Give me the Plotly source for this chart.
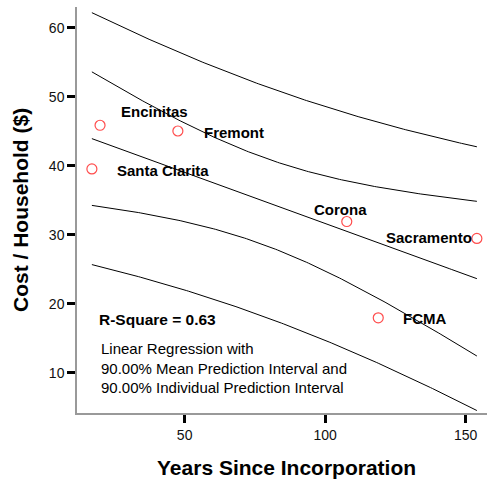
import numpy as np
import plotly.graph_objects as go

# Cities: years since incorporation vs. cost per household
cities = ["Encinitas", "Fremont", "Santa Clarita", "Corona", "Sacramento", "FCMA"]
years = [19.9, 47.6, 17.0, 107.7, 154.0, 118.9]
cost = [45.9, 45.07, 39.57, 31.95, 29.5, 18.0]

# Student t quantile for a two-sided 90% interval with n-2 = 4 degrees of freedom
T_90_DF4 = 2.132

x_ticks = [50, 100, 150]
y_ticks = [10, 20, 30, 40, 50, 60]

# Ordinary least squares fit with mean and individual prediction intervals
x = np.array(years)
y = np.array(cost)
n = len(x)
xm, ym = x.mean(), y.mean()
sxx = ((x - xm) ** 2).sum()
slope = ((x - xm) * (y - ym)).sum() / sxx
intercept = ym - slope * xm
resid = y - (intercept + slope * x)
s = np.sqrt((resid ** 2).sum() / (n - 2))
r2 = 1 - (resid ** 2).sum() / ((y - ym) ** 2).sum()

xg = np.linspace(x.min(), x.max(), 200)
fit = intercept + slope * xg
se_mean = s * np.sqrt(1 / n + (xg - xm) ** 2 / sxx)
se_ind = s * np.sqrt(1 + 1 / n + (xg - xm) ** 2 / sxx)
curves = [
    fit + T_90_DF4 * se_ind,
    fit + T_90_DF4 * se_mean,
    fit,
    fit - T_90_DF4 * se_mean,
    fit - T_90_DF4 * se_ind,
]

FONT = "Liberation Sans, Arial"

fig = go.Figure()
for c in curves:
    fig.add_trace(go.Scatter(x=xg, y=c, mode="lines",
                             line=dict(color="black", width=1),
                             hoverinfo="skip", showlegend=False))

fig.add_trace(go.Scatter(
    x=years, y=cost, mode="markers", showlegend=False,
    marker=dict(symbol="circle-open", size=10, color="#ff4d4d",
                line=dict(width=1.2, color="#ff4d4d")),
))

# label placement relative to each point (pixels): dx, dy, anchor
label_offsets = [(19, 14, "left"), (24, -2, "left"), (23, -2, "left"),
                 (-35, 12, "left"), (-3, 1, "right"), (23, -1, "left")]

annotations = []
for name, xv, yv, (dx, dy, anc) in zip(cities, years, cost, label_offsets):
    annotations.append(dict(
        x=xv, y=yv, xref="x", yref="y", text=name, showarrow=False,
        xanchor=anc, yanchor="middle", xshift=dx, yshift=dy,
        font=dict(family=FONT, size=15, color="black", weight="bold"),
    ))

layout_w, layout_h = 487, 483
m_l, m_r, m_t, m_b = 77, 0, 7, 70
pw, ph = layout_w - m_l - m_r, layout_h - m_t - m_b


def px_to_paper(px, py):
    return (px - m_l) / pw, 1 - (py - m_t) / ph


rx, ry = px_to_paper(97, 319)
annotations.append(dict(
    x=rx, y=ry, xref="paper", yref="paper", xanchor="left", yanchor="middle",
    text=f"R-Square = {r2:.2f}", showarrow=False,
    font=dict(family=FONT, size=15.5, color="black", weight="bold"),
))
lx, ly = px_to_paper(99, 368)
annotations.append(dict(
    x=lx, y=ly, xref="paper", yref="paper", xanchor="left", yanchor="middle",
    align="left", showarrow=False,
    text=("Linear Regression with<br>90.00% Mean Prediction Interval and"
          "<br>90.00% Individual Prediction Interval"),
    font=dict(family=FONT, size=15, color="black"),
))
tx, ty = px_to_paper(286, 467)
annotations.append(dict(
    x=tx, y=ty, xref="paper", yref="paper", xanchor="center", yanchor="middle",
    text="Years Since Incorporation", showarrow=False,
    font=dict(family=FONT, size=21, color="black", weight="bold"),
))
yx, yy = px_to_paper(20, 210)
annotations.append(dict(
    x=yx, y=yy, xref="paper", yref="paper", xanchor="center", yanchor="middle",
    text="Cost / Household ($)", showarrow=False, textangle=-90,
    font=dict(family=FONT, size=21, color="black", weight="bold"),
))

axis_common = dict(
    ticks="outside", ticklen=8, tickwidth=2.5, tickcolor="black",
    showline=True, linecolor="#999999", linewidth=1.5,
    showgrid=False, zeroline=False,
    tickfont=dict(family=FONT, size=14, color="#111111"),
)

fig.update_layout(
    width=layout_w, height=layout_h,
    margin=dict(l=m_l, r=m_r, t=m_t, b=m_b),
    paper_bgcolor="white", plot_bgcolor="white",
    annotations=annotations,
    xaxis=dict(range=[11.7, 157.6], tickvals=x_ticks, **axis_common),
    yaxis=dict(range=[4.2, 63.04], tickvals=y_ticks, **axis_common),
)

fig.write_html("out.html")
